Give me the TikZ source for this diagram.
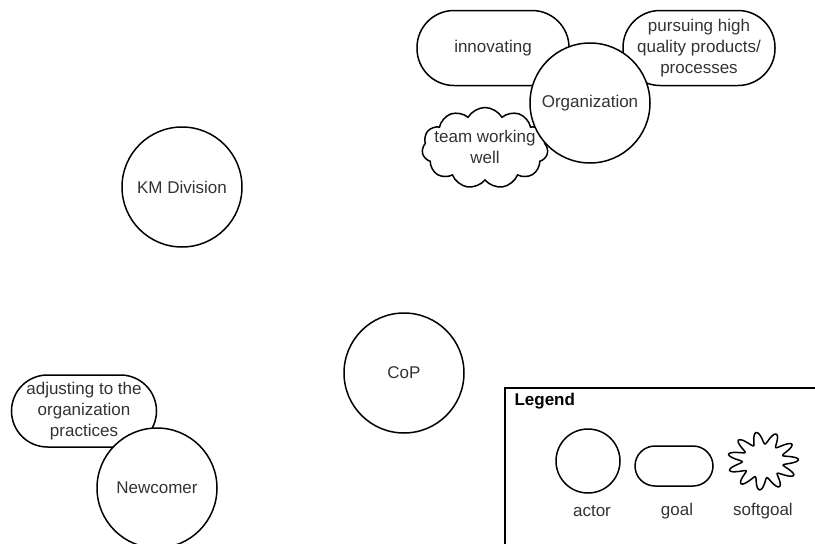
\documentclass[tikz,border=0pt]{standalone}
\usepackage{fontspec}
\setmainfont{Liberation Sans}
\usetikzlibrary{shapes.symbols}
\definecolor{txt}{HTML}{333333}
\tikzset{
  base/.style={draw=black, line width=1.5pt, text=txt, font=\fontsize{17}{21}\selectfont, align=center, inner sep=0pt},
  actor/.style={base, circle, fill=white, minimum size=120pt},
  goalbox/.style={base, rectangle, rounded corners=37pt, fill=white, minimum width=152pt, minimum height=75pt},
  softbox/.style={base, cloud, cloud puffs=11, cloud puff arc=120, aspect=1.6, fill=white, minimum width=126pt, minimum height=81pt},
}
\begin{document}
\begin{tikzpicture}[x=1pt,y=-1pt]
\useasboundingbox (0,0) rectangle (815,544);
\clip (0,0) rectangle (815,544);
% top-right cluster
\node[goalbox] (innov) at (493,48) {innovating};
\node[goalbox] (pursue) at (699,48) {pursuing high\\quality products/\\processes};
\node[softbox] (team) at (485,148) {};
\node[actor] (org) at (590,103) {Organization};
\node[base, draw=none] (teamtxt) at (485,147) {team working\\well};
% middle
\node[actor] (km) at (182,187) {KM Division};
\node[actor] (cop) at (404,373) {CoP};
% bottom-left
\node[goalbox, minimum width=145pt, minimum height=72pt, rounded corners=36pt] (adjust) at (84,411) {adjusting to the\\organization\\practices};
\node[actor] (newc) at (157,488) {Newcomer};
% legend
\draw[line width=1.5pt] (505,560) -- (505,388) -- (830,388);
\node[anchor=west, font=\fontsize{17}{20}\selectfont\bfseries] (legtitle) at (511,401) {Legend};
\node[base, circle, minimum size=64pt] (legactor) at (588,461) {};
\node[base, rectangle, rounded corners=20pt, minimum width=78pt, minimum height=40pt] (leggoal) at (674,466) {};
\coordinate (legsoft) at (763,461);
\draw[line width=1.5pt, shift={(legsoft)}, xscale=1.22] plot[smooth cycle, samples=177, domain=0:358, variable=\t]
  ({(23+6*cos(11*\t+30))*cos(\t)}, {(23+6*cos(11*\t+30))*sin(\t)});
\node[base, draw=none] (lab1) at (592,511) {actor};
\node[base, draw=none] (lab2) at (677,511) {goal};
\node[base, draw=none] (lab3) at (763,511) {softgoal};
\end{tikzpicture}
\end{document}
